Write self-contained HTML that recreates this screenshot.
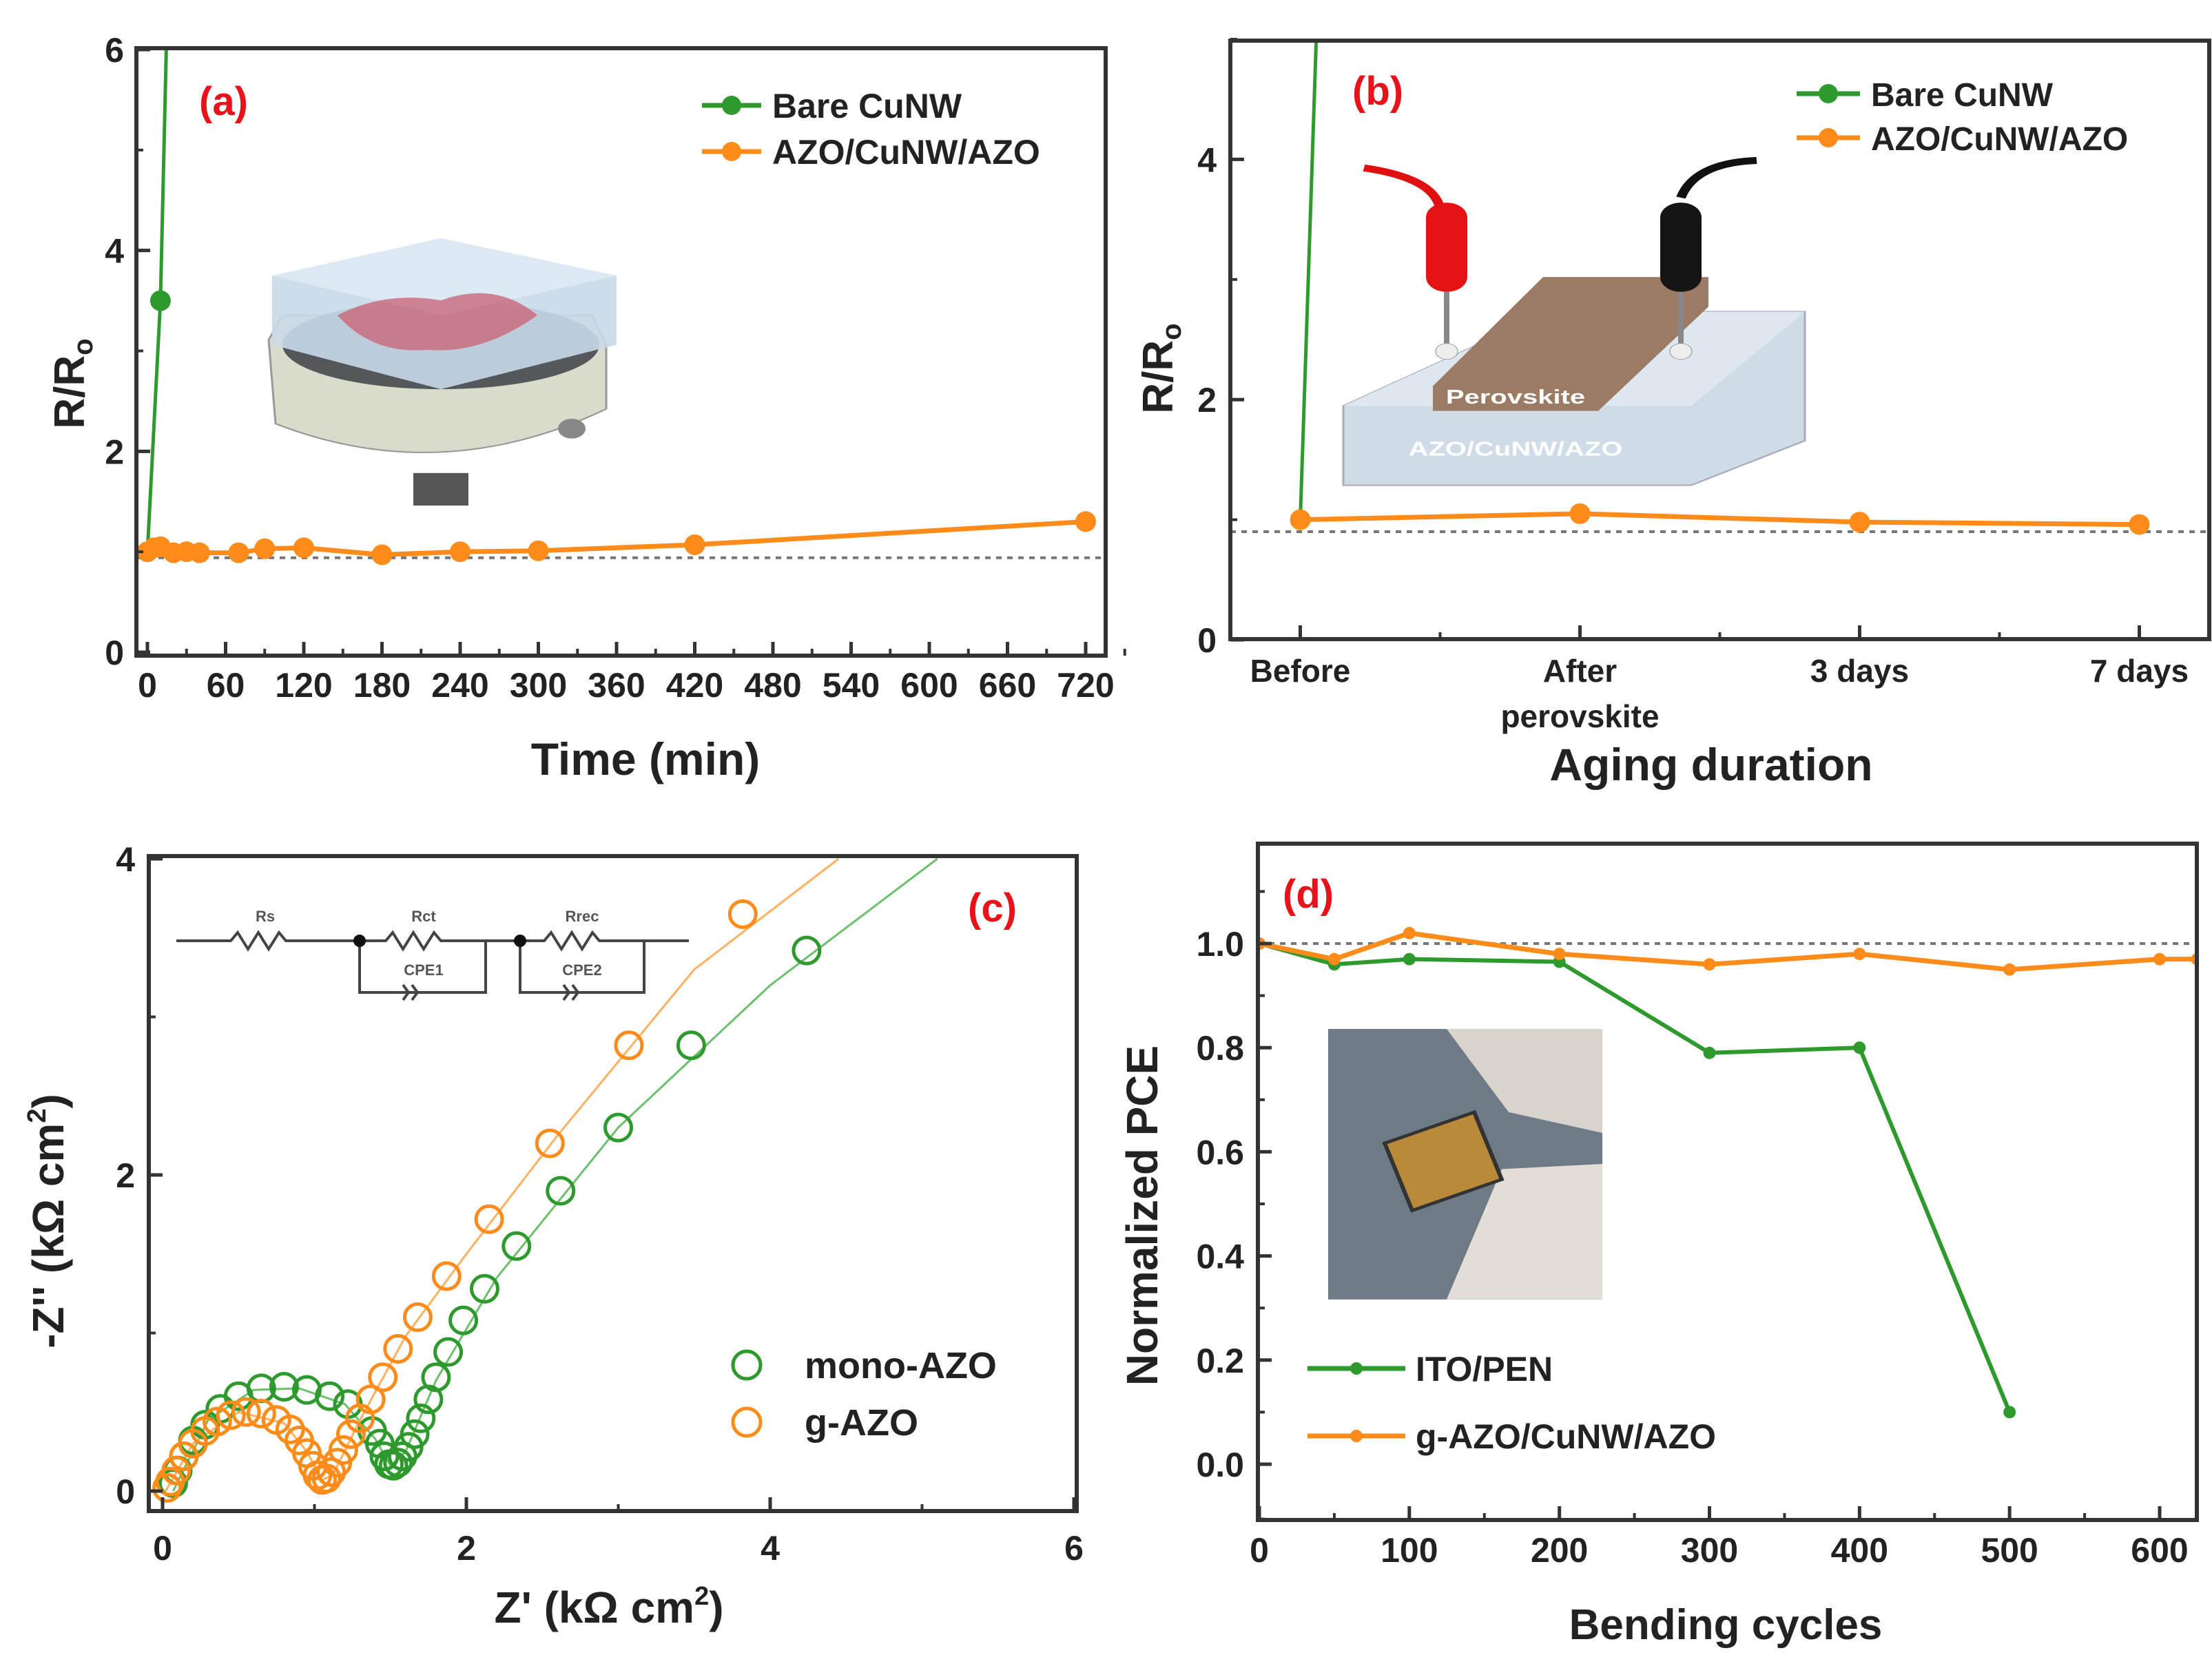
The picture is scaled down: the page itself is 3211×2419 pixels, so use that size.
<!DOCTYPE html>
<html><head><meta charset="utf-8"><style>
html,body{margin:0;padding:0;background:#fff;overflow:hidden}
svg{display:block}
text{font-family:"Liberation Sans",Arial,sans-serif;font-weight:bold;fill:#222}
</style></head><body>
<svg id="fig" width="3211" height="2419" viewBox="0 0 3211 2419" xmlns="http://www.w3.org/2000/svg">
<g transform="translate(0,346) scale(1,0.716) translate(0,-484)">
 <path d="M390 690 L410 640 L860 640 L880 700 L880 830 Q640 990 400 860 Z" fill="#d9dccb" stroke="#999" stroke-width="3"/>
 <ellipse cx="640" cy="700" rx="230" ry="90" fill="#55585a"/>
 <rect x="600" y="960" width="80" height="66" fill="#555"/>
 <circle cx="830" cy="870" r="20" fill="#888"/>
 <path d="M395 560 L640 484 L895 560 L895 700 L640 790 L395 700 Z" fill="#c9d9e8" opacity="0.9"/>
 <path d="M395 560 L640 484 L895 560 L640 640 Z" fill="#dce8f3"/>
 <path d="M490 640 Q560 590 640 610 Q720 570 780 640 Q700 720 620 710 Q540 720 490 640 Z" fill="#c9687a" opacity="0.8"/>
</g>
<g transform="translate(0,233) scale(1,0.72) translate(0,-325)">
 <path d="M1950 820 L2250 630 L2620 630 L2620 890 L2455 980 L1950 980 Z" fill="#cfdbe6" stroke="#aab" stroke-width="3"/>
 <path d="M1950 820 L2250 630 L2620 630 L2455 820 Z" fill="#dde7f0"/>
 <text x="2200" y="920" font-size="40" text-anchor="middle" style="fill:#fff">AZO/CuNW/AZO</text>
 <path d="M2080 780 L2240 560 L2480 560 L2480 620 L2320 830 L2080 830 Z" fill="#9b7b63"/>
 <text x="2200" y="815" font-size="40" text-anchor="middle" style="fill:#fff">Perovskite</text>
 <path d="M1980 340 Q2080 360 2090 420" stroke="#e01010" stroke-width="14" fill="none"/>
 <rect x="2070" y="410" width="60" height="180" rx="30" fill="#e41414"/>
 <line x1="2100" y1="590" x2="2100" y2="700" stroke="#888" stroke-width="8"/>
 <circle cx="2100" cy="710" r="16" fill="#eee" stroke="#888"/>
 <path d="M2550 325 Q2460 330 2440 400" stroke="#111" stroke-width="14" fill="none"/>
 <rect x="2410" y="410" width="60" height="180" rx="30" fill="#151515"/>
 <line x1="2440" y1="590" x2="2440" y2="700" stroke="#888" stroke-width="8"/>
 <circle cx="2440" cy="710" r="16" fill="#eee" stroke="#888"/>
</g>
<g transform="translate(0,1494) scale(1,0.751) translate(0,-1599)">
 <rect x="1928" y="1599" width="398" height="523" fill="#6e7a86"/>
 <path d="M2100 1599 L2326 1599 L2326 1800 L2190 1760 Z" fill="#d8d3cc"/>
 <path d="M2100 2122 L2326 2122 L2326 1860 L2180 1870 Z" fill="#e2ddd6"/>
 <path d="M2010 1820 L2140 1760 L2180 1890 L2050 1950 Z" fill="#b88a3a" stroke="#333" stroke-width="6"/>
</g>
<g stroke="#444" stroke-width="4" fill="none">
 <path d="M256 1366 L335 1366 l10 -12 l15 24 l15 -24 l15 24 l15 -24 l10 12 L522 1366 L560 1366 l10 -12 l15 24 l15 -24 l15 24 l15 -24 l10 12 L755 1366 L790 1366 l10 -12 l15 24 l15 -24 l15 24 l15 -24 l10 12 L1000 1366"/>
 <path d="M522 1366 L522 1441 L705 1441 L705 1366 M755 1366 L755 1441 L935 1441 L935 1366"/>
 <path d="M585 1430 l8 11 l-8 11 M598 1430 l8 11 l-8 11 M818 1430 l8 11 l-8 11 M831 1430 l8 11 l-8 11"/>
</g>
<g>
 <text x="385" y="1338" font-size="22" text-anchor="middle" style="fill:#555">Rs</text>
 <text x="615" y="1338" font-size="22" text-anchor="middle" style="fill:#555">Rct</text>
 <text x="845" y="1338" font-size="22" text-anchor="middle" style="fill:#555">Rrec</text>
 <text x="615" y="1416" font-size="22" text-anchor="middle" style="fill:#555">CPE1</text>
 <text x="845" y="1416" font-size="22" text-anchor="middle" style="fill:#555">CPE2</text>
 <circle cx="522" cy="1366" r="9" fill="#111"/><circle cx="755" cy="1366" r="9" fill="#111"/>
</g>
</svg>
<script>
// ---- Panel (a) data ----
const aOrangeX=[0,5,10,20,30,40,70,90,120,180,240,300,420,720];
const aOrangeY=[1.0,1.04,1.05,0.99,1.0,0.99,0.99,1.03,1.04,0.97,1.0,1.01,1.07,1.3];
const aGreenX=[0,10,15];
const aGreenY=[1.0,3.5,6.3];
const aXTicks=[0,60,120,180,240,300,360,420,480,540,600,660,720];
const aYTicks=[0,2,4,6];
// ---- Panel (b) data ----
const bCats=["Before","After|perovskite","3 days","7 days"];
const bOrange=[1.0,1.05,0.98,0.96];
const bGreenX=[0,0.06];
const bGreenY=[1.0,5.2];
const bYTicks=[0,2,4];
// ---- Panel (c) data ----
const cMonoX=[0.07,0.1,0.14,0.2,0.28,0.38,0.5,0.65,0.8,0.95,1.1,1.22,1.38,1.43,1.46,1.49,1.52,1.55,1.58,1.62,1.66,1.7,1.75,1.8,1.88,1.98,2.12,2.33,2.62,3.0,3.48,4.24];
const cMonoY=[0.05,0.13,0.22,0.32,0.42,0.52,0.6,0.65,0.66,0.64,0.6,0.55,0.38,0.3,0.22,0.17,0.16,0.18,0.22,0.28,0.36,0.46,0.58,0.72,0.88,1.08,1.28,1.55,1.9,2.3,2.82,3.42];
const cGX=[0.03,0.05,0.09,0.14,0.2,0.28,0.36,0.45,0.55,0.65,0.75,0.84,0.9,0.95,0.99,1.02,1.05,1.08,1.11,1.15,1.19,1.24,1.3,1.37,1.45,1.55,1.68,1.87,2.15,2.55,3.07,3.82];
const cGY=[0.02,0.06,0.13,0.22,0.3,0.38,0.44,0.48,0.5,0.49,0.45,0.39,0.32,0.24,0.16,0.1,0.07,0.08,0.12,0.18,0.26,0.36,0.46,0.58,0.72,0.9,1.1,1.36,1.72,2.2,2.82,3.65];
const cMonoFitX=[0.07,0.3,0.6,0.9,1.2,1.4,1.5,1.6,1.8,2.2,3.0,4.0,5.1];
const cMonoFitY=[0.0,0.45,0.64,0.65,0.55,0.33,0.16,0.25,0.7,1.35,2.3,3.2,4.0];
const cGFitX=[0.02,0.2,0.5,0.8,0.95,1.05,1.12,1.3,1.6,2.0,2.6,3.5,4.45];
const cGFitY=[0.0,0.3,0.5,0.43,0.25,0.07,0.1,0.45,0.98,1.5,2.25,3.3,4.0];
const cXTicks=[0,2,4,6];
const cYTicks=[0,2,4];
// ---- Panel (d) data ----
const dX=[0,50,100,200,300,400,500];
const dGreen=[1.0,0.96,0.97,0.965,0.79,0.8,0.1];
const dOX=[0,50,100,200,300,400,500,600,625];
const dOrange=[1.0,0.97,1.02,0.98,0.96,0.98,0.95,0.97,0.97];
const dXTicks=[0,100,200,300,400,500,600];
const dYTicks=[0,0.2,0.4,0.6,0.8,1.0];

const NS="http://www.w3.org/2000/svg";
const svg=document.getElementById('fig');
function mk(tag,attrs,parent){const e=document.createElementNS(NS,tag);for(const k in attrs)e.setAttribute(k,attrs[k]);(parent||svg).appendChild(e);return e;}
function txt(s,x,y,size,anchor,parent,fill){const t=mk('text',{x:x,y:y,'font-size':size,'text-anchor':anchor||'middle'},parent);t.textContent=s;if(fill)t.style.fill=fill;return t;}
function lin(d0,d1,p0,p1){return v=>p0+(v-d0)/(d1-d0)*(p1-p0);}
const GREEN="#2e9a2e",ORANGE="#ff8c1a",AX="#333";
function frame(x0,y0,x1,y1,name){const r=mk('rect',{x:x0,y:y0,width:x1-x0,height:y1-y0,fill:'none',stroke:AX,'stroke-width':6});}
function poly(xs,ys,sx,sy,color,w,name){const p=mk('polyline',{points:xs.map((v,i)=>sx(v)+','+sy(ys[i])).join(' '),fill:'none',stroke:color,'stroke-width':w});return p;}
const TK=50;

// ===== Panel A =====
{const L=198,R=1605,T=70,B=952;
const sx=lin(0,720,214,1576), sy=lin(0,6,947,72);
const g=mk('g',{});
const dl=mk('line',{x1:L,x2:R,y1:sy(0.94),y2:sy(0.94),stroke:'#777','stroke-width':4,'stroke-dasharray':'8 8'},g);
const cl=mk('clipPath',{id:'ca'},g);mk('rect',{x:L,y:T,width:R-L,height:B-T},cl);
const gc=mk('g',{'clip-path':'url(#ca)'},g);
gc.appendChild(poly(aGreenX,aGreenY,sx,sy,GREEN,5,'bare-cunw-line'));
aGreenX.forEach((v,i)=>{if(aGreenY[i]<6){const c=mk('circle',{cx:sx(v),cy:sy(aGreenY[i]),r:15,fill:GREEN},gc);}});
gc.appendChild(poly(aOrangeX,aOrangeY,sx,sy,ORANGE,7,'azo-cunw-azo-line'));
aOrangeX.forEach((v,i)=>{const c=mk('circle',{cx:sx(v),cy:sy(aOrangeY[i]),r:15,fill:ORANGE},gc);});
frame(L,T,R,B,'panel-a-axes');
aXTicks.forEach(v=>{mk('line',{x1:sx(v),x2:sx(v),y1:B,y2:B-20,stroke:AX,'stroke-width':5},g);const t=txt(String(v),sx(v),1012,TK,'middle',g);mk('line',{x1:sx(v+30),x2:sx(v+30),y1:B,y2:B-10,stroke:AX,'stroke-width':4},g);});
aYTicks.forEach(v=>{mk('line',{x1:L,x2:L+20,y1:sy(v),y2:sy(v),stroke:AX,'stroke-width':5},g);if(v<6)mk('line',{x1:L,x2:L+10,y1:sy(v+1),y2:sy(v+1),stroke:AX,'stroke-width':4},g);const t=txt(String(v),180,sy(v)+18,TK,'end',g);});
const xt=txt('Time (min)',937,1125,66,'middle',g);
const yt=mk('text',{x:0,y:0,'font-size':62,'text-anchor':'middle',transform:'translate(122,557) rotate(-90)'},g);yt.innerHTML=`R/R<tspan font-size="40" dy="12">o</tspan>`;
const pl=txt('(a)',289,167,58,'start',g,'#e8121b');
[[153,GREEN,'Bare CuNW'],[220,ORANGE,'AZO/CuNW/AZO']].forEach(([y,c,s])=>{const lg=mk('g',{},g);mk('line',{x1:1019,x2:1105,y1:y,y2:y,stroke:c,'stroke-width':7},lg);mk('circle',{cx:1062,cy:y,r:14,fill:c},lg);txt(s,1121,y+18,50,'start',lg);});
}
// ===== Panel B =====
{const L=1786,R=3207,T=59,B=928;
const sx=lin(-0.25,3.25,L,R), sy=lin(0,5,929,57);
const g=mk('g',{});
const dl=mk('line',{x1:L,x2:R,y1:sy(0.9),y2:sy(0.9),stroke:'#777','stroke-width':4,'stroke-dasharray':'8 8'},g);
const cl=mk('clipPath',{id:'cb'},g);mk('rect',{x:L,y:T,width:R-L,height:B-T},cl);
const gc=mk('g',{'clip-path':'url(#cb)'},g);
gc.appendChild(poly(bGreenX,bGreenY,sx,sy,GREEN,5,'bare-cunw-line'));
const idx=bOrange.map((v,i)=>i);
gc.appendChild(poly(idx,bOrange,sx,sy,ORANGE,7,'azo-cunw-azo-line'));
idx.forEach(i=>{const c=mk('circle',{cx:sx(i),cy:sy(bOrange[i]),r:15,fill:ORANGE},gc);});
frame(L,T,R,B,'panel-b-axes');
bCats.forEach((s,i)=>{mk('line',{x1:sx(i),x2:sx(i),y1:B,y2:B-20,stroke:AX,'stroke-width':5},g);mk('line',{x1:sx(i+0.5),x2:sx(i+0.5),y1:B,y2:B-10,stroke:AX,'stroke-width':4},g);const p=s.split('|');p.forEach((q,k)=>{const t=txt(q,sx(i),990+k*66,46,'middle',g);});});
bYTicks.forEach(v=>{mk('line',{x1:L,x2:L+20,y1:sy(v),y2:sy(v),stroke:AX,'stroke-width':5},g);mk('line',{x1:L,x2:L+10,y1:sy(v+1),y2:sy(v+1),stroke:AX,'stroke-width':4},g);const t=txt(String(v),1766,sy(v)+18,TK,'end',g);});
const xt=txt('Aging duration',2484,1133,66,'middle',g);
const yt=mk('text',{x:0,y:0,'font-size':62,'text-anchor':'middle',transform:'translate(1702,535) rotate(-90)'},g);yt.innerHTML=`R/R<tspan font-size="40" dy="12">o</tspan>`;
const pl=txt('(b)',1963,152,58,'start',g,'#e8121b');
[[136,GREEN,'Bare CuNW'],[200,ORANGE,'AZO/CuNW/AZO']].forEach(([y,c,s])=>{const lg=mk('g',{},g);mk('line',{x1:2608,x2:2700,y1:y,y2:y,stroke:c,'stroke-width':7},lg);mk('circle',{cx:2654,cy:y,r:14,fill:c},lg);txt(s,2716,y+18,48,'start',lg);});
}
// ===== Panel C =====
{const L=216,R=1563,T=1243,B=2194;
const sx=lin(0,6,236,1559), sy=lin(0,4,2165,1247);
const g=mk('g',{});
const cl=mk('clipPath',{id:'cc'},g);mk('rect',{x:L,y:T,width:R-L,height:B-T},cl);
const gc=mk('g',{'clip-path':'url(#cc)'},g);
gc.appendChild(poly(cMonoFitX,cMonoFitY,sx,sy,'#6cbf6c',3,'mono-azo-fit'));
gc.appendChild(poly(cGFitX,cGFitY,sx,sy,'#ffb060',3,'g-azo-fit'));
cMonoX.forEach((v,i)=>{const c=mk('circle',{cx:sx(v),cy:sy(cMonoY[i]),r:19,fill:'none',stroke:GREEN,'stroke-width':5},gc);});
cGX.forEach((v,i)=>{const c=mk('circle',{cx:sx(v),cy:sy(cGY[i]),r:19,fill:'none',stroke:ORANGE,'stroke-width':5},gc);});
frame(L,T,R,B,'panel-c-axes');
cXTicks.forEach(v=>{mk('line',{x1:sx(v),x2:sx(v),y1:B,y2:B-20,stroke:AX,'stroke-width':5},g);if(v<6)mk('line',{x1:sx(v+1),x2:sx(v+1),y1:B,y2:B-10,stroke:AX,'stroke-width':4},g);const t=txt(String(v),sx(v),2265,TK,'middle',g);});
cYTicks.forEach(v=>{mk('line',{x1:L,x2:L+20,y1:sy(v),y2:sy(v),stroke:AX,'stroke-width':5},g);if(v<4)mk('line',{x1:L,x2:L+10,y1:sy(v+1),y2:sy(v+1),stroke:AX,'stroke-width':4},g);const t=txt(String(v),196,sy(v)+18,TK,'end',g);});
const xt=mk('text',{x:884,y:2356,'font-size':64,'text-anchor':'middle'},g);xt.innerHTML=`Z' (kΩ cm<tspan font-size="38" dy="-26">2</tspan><tspan dy="26">)</tspan>`;
const yt=mk('text',{x:0,y:0,'font-size':64,'text-anchor':'middle',transform:'translate(92,1773) rotate(-90)'},g);yt.innerHTML=`-Z'' (kΩ cm<tspan font-size="38" dy="-26">2</tspan><tspan dy="26">)</tspan>`;
const pl=txt('(c)',1405,1338,58,'start',g,'#e8121b');
[[1982,GREEN,'mono-AZO'],[2065,ORANGE,'g-AZO']].forEach(([y,c,s])=>{const lg=mk('g',{},g);mk('circle',{cx:1084,cy:y,r:20,fill:'none',stroke:c,'stroke-width':5},lg);txt(s,1168,y+19,54,'start',lg);});
}
// ===== Panel D =====
{const L=1826,R=3189,T=1225,B=2207;
const sx=lin(0,600,1828,3135), sy=lin(0,1,2126,1370);
const g=mk('g',{});
const dl=mk('line',{x1:L,x2:R,y1:sy(1),y2:sy(1),stroke:'#777','stroke-width':4,'stroke-dasharray':'8 8'},g);
const cl=mk('clipPath',{id:'cd'},g);mk('rect',{x:L,y:T,width:R-L,height:B-T},cl);
const gc=mk('g',{'clip-path':'url(#cd)'},g);
gc.appendChild(poly(dX,dGreen,sx,sy,GREEN,6,'ito-pen-line'));
dX.forEach((v,i)=>{const c=mk('circle',{cx:sx(v),cy:sy(dGreen[i]),r:9,fill:GREEN},gc);});
gc.appendChild(poly(dOX,dOrange,sx,sy,ORANGE,7,'g-azo-cunw-azo-line'));
dOX.forEach((v,i)=>{const c=mk('circle',{cx:sx(v),cy:sy(dOrange[i]),r:9,fill:ORANGE},gc);});
frame(L,T,R,B,'panel-d-axes');
dXTicks.forEach(v=>{mk('line',{x1:sx(v),x2:sx(v),y1:B,y2:B-20,stroke:AX,'stroke-width':5},g);mk('line',{x1:sx(v+50),x2:sx(v+50),y1:B,y2:B-10,stroke:AX,'stroke-width':4},g);const t=txt(String(v),sx(v),2268,TK,'middle',g);});
dYTicks.forEach(v=>{mk('line',{x1:L,x2:L+20,y1:sy(v),y2:sy(v),stroke:AX,'stroke-width':5},g);mk('line',{x1:L,x2:L+10,y1:sy(v+0.1),y2:sy(v+0.1),stroke:AX,'stroke-width':4},g);const t=txt(v.toFixed(1),1806,sy(v)+18,TK,'end',g);});
mk('line',{x1:L,x2:L+10,y1:sy(-0.1)+4,y2:sy(-0.1)+4,stroke:AX,'stroke-width':4},g);
const xt=txt('Bending cycles',2505,2380,62,'middle',g);
const yt=txt('Normalized PCE',0,0,64,'middle',g);yt.setAttribute('transform','translate(1680,1765) rotate(-90)');
const pl=txt('(d)',1862,1318,58,'start',g,'#e8121b');
[[1987,GREEN,'ITO/PEN'],[2085,ORANGE,'g-AZO/CuNW/AZO']].forEach(([y,c,s])=>{const lg=mk('g',{},g);mk('line',{x1:1898,x2:2040,y1:y,y2:y,stroke:c,'stroke-width':7},lg);mk('circle',{cx:1969,cy:y,r:9,fill:c},lg);txt(s,2055,y+18,50,'start',lg);});
}
</script>
</body></html>
